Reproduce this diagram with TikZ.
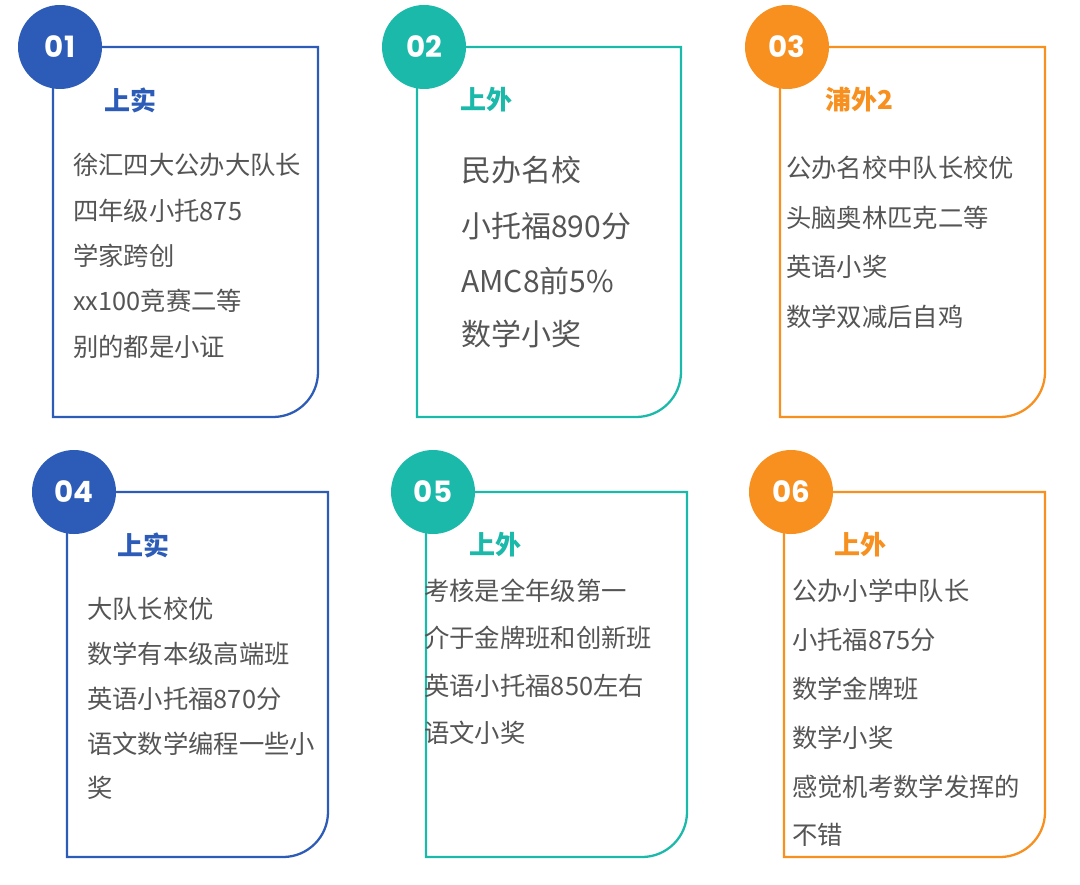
\documentclass[tikz,border=0pt]{standalone}
\usepackage{fontspec}
\setmainfont{Noto Sans CJK SC}
\newfontfamily\numfont{Poppins}
\definecolor{cb}{HTML}{2C5CB8}
\definecolor{ct}{HTML}{1BB9AA}
\definecolor{co}{HTML}{F7901E}
\definecolor{tx}{HTML}{555555}
\tikzset{
 card/.style={line width=1.7pt},
 badge/.style={circle,minimum size=63pt,inner sep=0pt},
 num/.style={text=white,font=\numfont\bfseries\fontsize{22}{22}\selectfont},
 ttl/.style={anchor=west,font=\bfseries\fontsize{19.5}{20}\selectfont},
 ln/.style={anchor=west,text=tx,inner sep=0pt,font=\fontsize{19}{19}\selectfont},
 lnb/.style={anchor=west,text=tx,inner sep=0pt,font=\fontsize{22.5}{23}\selectfont},
}
\newcommand\mycard[6]{% x1 y1 x2 y2 color name
 \draw[card,#5] (#1,#2) -- (#3,#2) -- (#3,#4-45) arc[start angle=0,end angle=90,radius=45] -- (#1,#4) -- cycle;
 \node[badge,fill=#5] (#6) at (#1+7,#2) {};
}
\begin{document}
\begin{tikzpicture}[x=0.75pt,y=-0.75pt]
\useasboundingbox[fill=white] (0,0) rectangle (1080,884);
\mycard{53}{47}{318}{417}{cb}{b1}
\mycard{417}{47}{681}{417}{ct}{b2}
\mycard{780}{47}{1045}{417}{co}{b3}
\mycard{67}{492}{328}{857}{cb}{b4}
\mycard{426}{492}{687}{857}{ct}{b5}
\mycard{784}{492}{1045}{857}{co}{b6}
\node[num] (n1) at (b1) {01};
\node[num] (n2) at (b2) {02};
\node[num] (n3) at (b3) {03};
\node[num] (n4) at (b4) {04};
\node[num] (n5) at (b5) {05};
\node[num] (n6) at (b6) {06};
% card 1
\node[ttl,text=cb] (t1) at (100,100) {上实};
\node[ln] (a1) at (73,165) {徐汇四大公办大队长};
\node[ln] (a2) at (73,211) {四年级小托875};
\node[ln] (a3) at (73,256) {学家跨创};
\node[ln] (a4) at (73,301) {xx100竞赛二等};
\node[ln] (a5) at (73,347) {别的都是小证};
% card 2
\node[ttl,text=ct] (t2) at (456,100) {上外};
\node[lnb] (c1) at (461,170) {民办名校};
\node[lnb] (c2) at (461,226) {小托福890分};
\node[lnb] (c3) at (461,281) {AMC8前5\%};
\node[lnb] (c4) at (461,334) {数学小奖};
% card 3
\node[ttl,text=co] (t3) at (821,100) {浦外2};
\node[ln] (d1) at (786,168) {公办名校中队长校优};
\node[ln] (d2) at (786,218) {头脑奥林匹克二等};
\node[ln] (d3) at (786,267) {英语小奖};
\node[ln] (d4) at (786,317) {数学双减后自鸡};
% card 4
\node[ttl,text=cb] (t4) at (113,545) {上实};
\node[ln] (e1) at (87,609) {大队长校优};
\node[ln] (e2) at (87,654) {数学有本级高端班};
\node[ln] (e3) at (87,699) {英语小托福870分};
\node[ln] (e4) at (87,744) {语文数学编程一些小};
\node[ln] (e5) at (87,788) {奖};
% card 5
\node[ttl,text=ct] (t5) at (465,545) {上外};
\node[ln] (f1) at (424,591) {考核是全年级第一};
\node[ln] (f2) at (424,638) {介于金牌班和创新班};
\node[ln] (f3) at (424,686) {英语小托福850左右};
\node[ln] (f4) at (424,733) {语文小奖};
% card 6
\node[ttl,text=co] (t6) at (830,545) {上外};
\node[ln] (g1) at (792,591) {公办小学中队长};
\node[ln] (g2) at (792,640) {小托福875分};
\node[ln] (g3) at (792,689) {数学金牌班};
\node[ln] (g4) at (792,738) {数学小奖};
\node[ln] (g5) at (792,787) {感觉机考数学发挥的};
\node[ln] (g6) at (792,835) {不错};
\end{tikzpicture}
\end{document}
